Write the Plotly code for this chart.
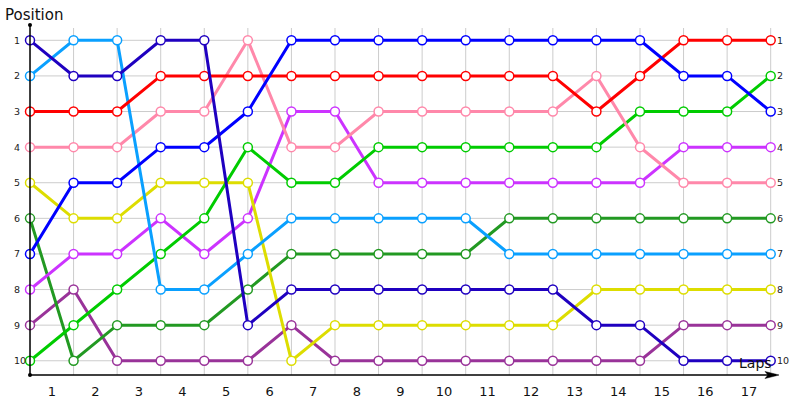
import plotly.graph_objects as go

laps = list(range(1, 18))
points = list(range(0, 18))
positions = list(range(1, 11))

dark_blue = [1, 2, 2, 1, 1, 9, 8, 8, 8, 8, 8, 8, 8, 9, 9, 10, 10, 10]
light_blue = [2, 1, 1, 8, 8, 7, 6, 6, 6, 6, 6, 7, 7, 7, 7, 7, 7, 7]
red = [3, 3, 3, 2, 2, 2, 2, 2, 2, 2, 2, 2, 2, 3, 2, 1, 1, 1]
pink = [4, 4, 4, 3, 3, 1, 4, 4, 3, 3, 3, 3, 3, 2, 4, 5, 5, 5]
blue = [7, 5, 5, 4, 4, 3, 1, 1, 1, 1, 1, 1, 1, 1, 1, 2, 2, 3]
yellow = [5, 6, 6, 5, 5, 5, 10, 9, 9, 9, 9, 9, 9, 8, 8, 8, 8, 8]
light_green = [10, 9, 8, 7, 6, 4, 5, 5, 4, 4, 4, 4, 4, 4, 3, 3, 3, 2]
dark_green = [6, 10, 9, 9, 9, 8, 7, 7, 7, 7, 7, 6, 6, 6, 6, 6, 6, 6]
magenta = [8, 7, 7, 6, 7, 6, 3, 3, 5, 5, 5, 5, 5, 5, 5, 4, 4, 4]
dark_purple = [9, 8, 10, 10, 10, 10, 9, 10, 10, 10, 10, 10, 10, 10, 10, 9, 9, 9]

series = [
    (dark_purple, "#993399"),
    (dark_green, "#229922"),
    (magenta, "#cc33ff"),
    (yellow, "#dddd00"),
    (light_green, "#00cc00"),
    (pink, "#ff88aa"),
    (light_blue, "#0aa0ff"),
    (red, "#ff0000"),
    (blue, "#0000ff"),
    (dark_blue, "#1f00c0"),
]

W, H = 800, 400
# plot area geometry in page pixels
L, R, T, B = 30, 780, 25, 375


def px(xp):
    return (xp - L) / (R - L)


def py(yp):
    return (B - yp) / (B - T)


fig = go.Figure()

shapes = []
for p in points:
    shapes.append(dict(type="line", xref="x", yref="paper", x0=p, x1=p, y0=0, y1=py(28),
                       line=dict(color="#cccccc", width=1), layer="below"))
for q in positions:
    shapes.append(dict(type="line", xref="x", yref="y", x0=0, x1=points[-1], y0=q, y1=q,
                       line=dict(color="#cccccc", width=1), layer="below"))
shapes.append(dict(type="line", xref="paper", yref="paper", x0=0, x1=0, y0=0, y1=py(25),
                   line=dict(color="black", width=1.5)))
shapes.append(dict(type="line", xref="paper", yref="paper", x0=0, x1=px(776), y0=0, y1=0,
                   line=dict(color="black", width=1.5)))
shapes.append(dict(type="path", xref="paper", yref="paper",
                   path=f"M {px(765)} {py(371.5)} L {px(779)} {py(375)} L {px(765)} {py(378.5)} L {px(768)} {py(375)} Z",
                   fillcolor="black", line=dict(color="black", width=0.5)))
for yy in (25, 375):
    shapes.append(dict(type="circle", xref="paper", yref="paper",
                       x0=px(28), x1=px(32), y0=py(yy + 2), y1=py(yy - 2),
                       fillcolor="black", line=dict(color="black", width=0)))

for vals, col in series:
    fig.add_trace(go.Scatter(
        x=points, y=vals, mode="lines+markers",
        line=dict(color=col, width=3),
        marker=dict(symbol="circle", size=9, color="white", line=dict(color=col, width=1.5)),
        cliponaxis=False, showlegend=False, hoverinfo="skip"))

annotations = []
for q in positions:
    annotations.append(dict(x=0, y=q, xref="x", yref="y", text=str(q), showarrow=False,
                            xanchor="left", yanchor="middle", xshift=-18,
                            font=dict(family="DejaVu Sans", size=9.5, color="#222222")))
    annotations.append(dict(x=points[-1], y=q, xref="x", yref="y", text=str(q), showarrow=False,
                            xanchor="left", yanchor="middle", xshift=4,
                            font=dict(family="DejaVu Sans", size=9.5, color="#222222")))
annotations.append(dict(x=px(3), y=py(15), xref="paper", yref="paper", text="Position",
                        showarrow=False, xanchor="left", yanchor="middle",
                        font=dict(family="DejaVu Sans", size=15, color="#111111")))
annotations.append(dict(x=px(755), y=py(363), xref="paper", yref="paper", text="Laps",
                        showarrow=False, xanchor="center", yanchor="middle",
                        font=dict(family="DejaVu Sans", size=14, color="#111111")))

fig.update_layout(
    width=W, height=H,
    margin=dict(l=L, r=W - R, t=T, b=H - B, pad=0, autoexpand=False),
    paper_bgcolor="white", plot_bgcolor="white",
    shapes=shapes, annotations=annotations,
    xaxis=dict(range=[0, 17 + (R - 770.7) / 43.57], showgrid=False, zeroline=False, showline=False,
               automargin=False,
               tickvals=[p + 0.5 for p in points[:-1]], ticktext=[str(l) for l in laps],
               ticks="outside", ticklen=4, tickcolor="rgba(0,0,0,0)",
               tickfont=dict(family="DejaVu Sans", size=13, color="#111111")),
    yaxis=dict(range=[10.40, 0.57], showgrid=False, zeroline=False, showline=False,
               automargin=False, showticklabels=False),
)

fig.write_html("out.html", config={"displayModeBar": False},
               post_script="document.body.style.margin='0';")
